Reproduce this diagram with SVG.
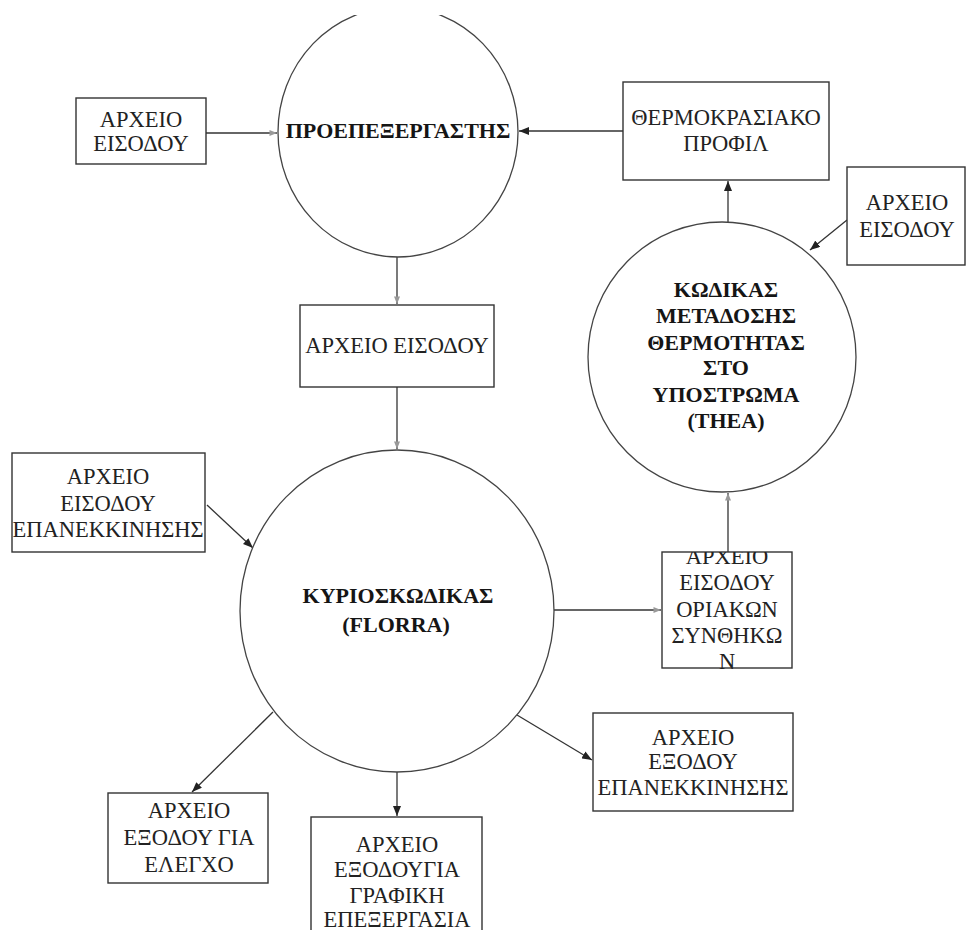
<svg xmlns="http://www.w3.org/2000/svg" width="967" height="930" viewBox="0 0 967 930">
<style>
.box{fill:#fff;stroke:#333;stroke-width:1.4}
.proc{fill:#fff;stroke:#444;stroke-width:1.3}
.t{font-family:"Liberation Serif","DejaVu Serif",serif;font-size:22.5px;fill:#222;text-anchor:middle}
.b{font-family:"Liberation Serif","DejaVu Serif",serif;font-size:22px;font-weight:bold;fill:#151515;text-anchor:middle}
.c{stroke:#333;stroke-width:1.3;fill:none}
.s{marker-end:url(#solid)}
.f{marker-end:url(#faint)}
</style>
<defs>
<marker id="solid" markerUnits="userSpaceOnUse" viewBox="0 0 10 8" refX="10" refY="4" markerWidth="10" markerHeight="8" orient="auto">
<path d="M0,0 L10,4 L0,8 z" fill="#222"/>
</marker>
<marker id="faint" markerUnits="userSpaceOnUse" viewBox="0 0 10 8" refX="10" refY="4" markerWidth="8" markerHeight="6" orient="auto">
<path d="M0,0 L10,4 L0,8 z" fill="#999"/>
</marker>
<clipPath id="topclip"><rect x="0" y="15" width="967" height="915"/></clipPath>
<clipPath id="oriclip"><rect x="662" y="552" width="130" height="130"/></clipPath>
</defs>

<g id="connectors">
<line class="c f" x1="206" y1="133" x2="277" y2="133"/>
<line class="c s" x1="623" y1="131" x2="519" y2="131"/>
<line class="c f" x1="397" y1="257" x2="397" y2="304"/>
<line class="c f" x1="397" y1="387" x2="397" y2="449"/>
<line class="c s" x1="207" y1="505" x2="253" y2="548"/>
<line class="c f" x1="554" y1="610" x2="661" y2="610"/>
<line class="c f" x1="728" y1="552" x2="728" y2="493"/>
<line class="c s" x1="728" y1="222" x2="728" y2="181"/>
<line class="c s" x1="847" y1="220" x2="810" y2="250"/>
<line class="c s" x1="517" y1="715" x2="592" y2="760"/>
<line class="c s" x1="273" y1="712" x2="192" y2="792"/>
<line class="c s" x1="397" y1="772" x2="397" y2="816"/>
</g>

<g id="preprocessor">
<ellipse class="proc" cx="398" cy="132" rx="120" ry="125" clip-path="url(#topclip)"/>
<text class="b" x="398" y="138">ΠΡΟΕΠΕΞΕΡΓΑΣΤΗΣ</text>
</g>

<g id="input-file-left">
<rect class="box" x="76" y="98" width="130" height="66"/>
<text class="t" x="141" y="127">ΑΡΧΕΙΟ</text>
<text class="t" x="141" y="151">ΕΙΣΟΔΟΥ</text>
</g>

<g id="thermal-profile">
<rect class="box" x="623" y="82" width="206" height="98"/>
<text class="t" x="726" y="125">ΘΕΡΜΟΚΡΑΣΙΑΚΟ</text>
<text class="t" x="726" y="151">ΠΡΟΦΙΛ</text>
</g>

<g id="input-file-right">
<rect class="box" x="847" y="167" width="118" height="98"/>
<text class="t" x="907" y="210">ΑΡΧΕΙΟ</text>
<text class="t" x="907" y="237">ΕΙΣΟΔΟΥ</text>
</g>

<g id="thea">
<ellipse class="proc" cx="722" cy="357" rx="134" ry="135"/>
<text class="b" x="726" y="297">ΚΩΔΙΚΑΣ</text>
<text class="b" x="726" y="323">ΜΕΤΑΔΟΣΗΣ</text>
<text class="b" x="726" y="350">ΘΕΡΜΟΤΗΤΑΣ</text>
<text class="b" x="726" y="375">ΣΤΟ</text>
<text class="b" x="726" y="402">ΥΠΟΣΤΡΩΜΑ</text>
<text class="b" x="726" y="428">(THEA)</text>
</g>

<g id="input-file-middle">
<rect class="box" x="300" y="305" width="194" height="82"/>
<text class="t" x="397" y="353">ΑΡΧΕΙΟ ΕΙΣΟΔΟΥ</text>
</g>

<g id="restart-input">
<rect class="box" x="12" y="453" width="193" height="99"/>
<text class="t" x="108" y="484">ΑΡΧΕΙΟ</text>
<text class="t" x="108" y="511">ΕΙΣΟΔΟΥ</text>
<text class="t" x="108" y="537">ΕΠΑΝΕΚΚΙΝΗΣΗΣ</text>
</g>

<g id="florra">
<ellipse class="proc" cx="397" cy="611" rx="157" ry="161"/>
<text class="b" x="398" y="603">ΚΥΡΙΟΣΚΩΔΙΚΑΣ</text>
<text class="b" x="396" y="632">(FLORRA)</text>
</g>

<g id="boundary-input">
<rect class="box" x="662" y="552" width="130" height="116"/>
<g clip-path="url(#oriclip)">
<text class="t" x="727" y="564">ΑΡΧΕΙΟ</text>
<text class="t" x="727" y="590">ΕΙΣΟΔΟΥ</text>
<text class="t" x="727" y="617">ΟΡΙΑΚΩΝ</text>
<text class="t" x="727" y="643">ΣΥΝΘΗΚΩ</text>
<text class="t" x="727" y="669">Ν</text>
</g>
</g>

<g id="restart-output">
<rect class="box" x="593" y="713" width="200" height="98"/>
<text class="t" x="693" y="745">ΑΡΧΕΙΟ</text>
<text class="t" x="693" y="769">ΕΞΟΔΟΥ</text>
<text class="t" x="693" y="795">ΕΠΑΝΕΚΚΙΝΗΣΗΣ</text>
</g>

<g id="check-output">
<rect class="box" x="108" y="793" width="160" height="90"/>
<text class="t" x="189" y="818">ΑΡΧΕΙΟ</text>
<text class="t" x="189" y="845">ΕΞΟΔΟΥ ΓΙΑ</text>
<text class="t" x="189" y="872">ΕΛΕΓΧΟ</text>
</g>

<g id="graphics-output">
<rect class="box" x="311" y="817" width="171" height="125"/>
<text class="t" x="397" y="852">ΑΡΧΕΙΟ</text>
<text class="t" x="397" y="877">ΕΞΟΔΟΥΓΙΑ</text>
<text class="t" x="397" y="903">ΓΡΑΦΙΚΗ</text>
<text class="t" x="397" y="927">ΕΠΕΞΕΡΓΑΣΙΑ</text>
</g>
</svg>
